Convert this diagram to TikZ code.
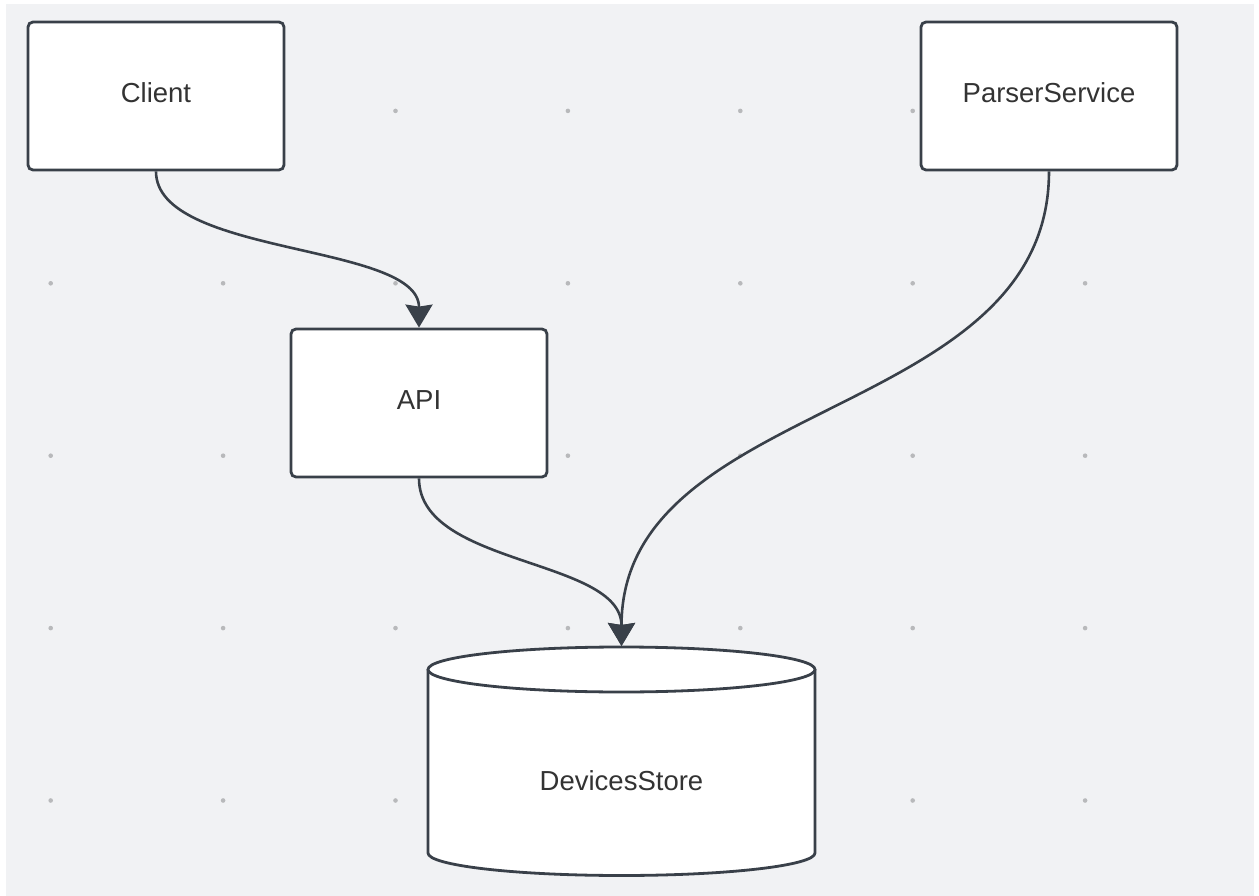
\documentclass[tikz,border=0pt]{standalone}
\usepackage{fontspec}
\setmainfont{Liberation Sans}
\usetikzlibrary{arrows.meta}
\definecolor{bg}{HTML}{F1F2F4}
\definecolor{ln}{HTML}{394049}
\definecolor{dotc}{HTML}{B8B9BB}
\definecolor{txt}{HTML}{333333}
\tikzset{tipA/.tip={Stealth[length=23pt,width=27pt,inset=2pt]}}
\begin{document}
\begin{tikzpicture}[x=1pt,y=-1pt,
  box/.style={draw=ln, line width=2.8pt, fill=white, rounded corners=5pt,
    minimum width=256pt, minimum height=148pt, inner sep=0pt, text depth=6pt,
    font=\fontsize{27.5}{32}\selectfont, text=txt},
  lbl/.style={font=\fontsize{27.5}{32}\selectfont, text=txt, inner sep=0pt},
  store/.style={draw=ln, line width=2.8pt},
  conn/.style={draw=ln, line width=2.6pt, -tipA}]
\useasboundingbox (0,0) rectangle (1259,896);
\fill[white] (0,0) rectangle (1259,896);
\fill[bg] (6,4) rectangle (1254,896);
\foreach \i in {0,...,6} \foreach \j in {0,...,4}
  \fill[dotc] (50.7+172.4*\i, 110.9+172.4*\j) circle (2.3pt);
% boxes
\node[box] (client) at (156,96) {Client};
\node[box] (parser) at (1049,96) {ParserService};
\node[box] (api) at (419,403) {API};
% cylinder
\fill[white] (428,669.5) -- (428,853) .. controls (428,865.4) and (514.6,875.5) .. (621.5,875.5)
  .. controls (728.4,875.5) and (815,865.4) .. (815,853) -- (815,669.5) -- cycle;
\draw[store] (428,669.5) -- (428,853) .. controls (428,865.4) and (514.6,875.5) .. (621.5,875.5)
  .. controls (728.4,875.5) and (815,865.4) .. (815,853) -- (815,669.5);
\draw[store, fill=white] (621.5,669.5) ellipse (193.5 and 22.5);
\node[lbl] (storelabel) at (621.5,781) {DevicesStore};
\coordinate (storetop) at (621.5,646);
% connectors
\draw[conn] (client.south) .. controls +(0,85) and +(0,-85) .. (api.north);
\draw[conn] (api.south) .. controls +(0,88) and +(0,-88) .. (storetop);
\draw[conn] (parser.south) .. controls +(0,250) and +(0,-250) .. (storetop);
\end{tikzpicture}
\end{document}
